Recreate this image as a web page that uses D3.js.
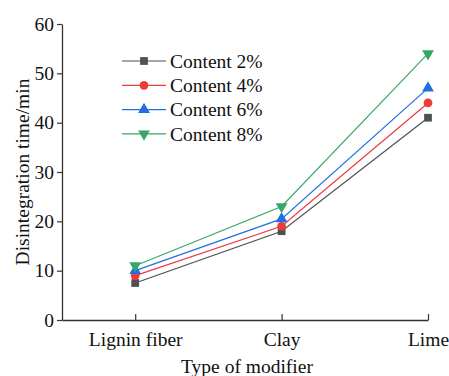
<!doctype html>
<meta charset="utf-8">
<style>
  body { margin: 0; background: #fff; }
  text { font-family: "Liberation Serif", "Times New Roman", serif; fill: #111; }
</style>
<body>
<script src="https://d3js.org/d3.v7.min.js"></script>
<script>
var categories = ['Lignin fiber', 'Clay', 'Lime'];
var seriesNames = ['Content 2%', 'Content 4%', 'Content 6%', 'Content 8%'];
var content2 = [7.5, 18, 41];
var content4 = [9, 19, 44];
var content6 = [10, 20.5, 47];
var content8 = [11, 23, 54];
var yTicks = [0, 10, 20, 30, 40, 50, 60];

var series = [
  {name: seriesNames[0], values: content2, color: '#505050', symbol: d3.symbolSquare, rot: 0},
  {name: seriesNames[1], values: content4, color: '#ef3a3a', symbol: d3.symbolCircle, rot: 0},
  {name: seriesNames[2], values: content6, color: '#1f6fe0', symbol: d3.symbolTriangle, rot: 0},
  {name: seriesNames[3], values: content8, color: '#36a865', symbol: d3.symbolTriangle, rot: 180}
];

var W = 449, H = 376,
    mLeft = 62, mRight = 428, mTop = 24, mBottom = 320,
    fs = 19.5;

var svg = d3.select('body').append('svg').attr('width', W).attr('height', H);

var x = d3.scaleLinear().domain([-0.5, 2]).range([mLeft, mRight]);
var y = d3.scaleLinear().domain([0, 60]).range([mBottom, mTop]);

// axes
var yAxis = svg.append('g').attr('transform', 'translate(' + mLeft + ',0)')
  .call(d3.axisLeft(y).tickValues(yTicks).tickSizeInner(5).tickSizeOuter(0).tickPadding(3));
var xAxis = svg.append('g').attr('transform', 'translate(0,' + mBottom + ')')
  .call(d3.axisBottom(x).tickValues([0, 1, 2]).tickSizeInner(-6).tickSizeOuter(0).tickPadding(12)
    .tickFormat(function(i){ return categories[i]; }));

[yAxis, xAxis].forEach(function(a){
  a.select('.domain').attr('stroke', '#333').attr('stroke-width', 1.3);
  a.selectAll('.tick line').attr('stroke', '#333').attr('stroke-width', 1.2);
  a.selectAll('text').attr('font-family', '"Liberation Serif", serif').attr('fill', '#111').attr('font-size', fs);
});

// axis titles
svg.append('text').text('Disintegration time/min')
  .attr('transform', 'translate(29,' + ((mTop + mBottom) / 2) + ') rotate(-90)')
  .attr('text-anchor', 'middle').attr('font-size', fs);
svg.append('text').text('Type of modifier')
  .attr('x', 247).attr('y', 373)
  .attr('text-anchor', 'middle').attr('font-size', fs);

// lines + markers
var line = d3.line().x(function(d, i){ return x(i); }).y(function(d){ return y(d); });
var sym = d3.symbol().size(60);

series.forEach(function(s){
  svg.append('path').attr('d', line(s.values))
    .attr('fill', 'none').attr('stroke', s.color).attr('stroke-width', 1.2);
  svg.selectAll(null).data(s.values).enter().append('path')
    .attr('d', sym.type(s.symbol)())
    .attr('transform', function(d, i){ return 'translate(' + x(i) + ',' + y(d) + ') rotate(' + s.rot + ')'; })
    .attr('fill', s.color);
});

// legend
var legend = svg.append('g').attr('transform', 'translate(122,61)');
series.forEach(function(s, i){
  var g = legend.append('g').attr('transform', 'translate(0,' + (i * 24.3) + ')');
  g.append('line').attr('x1', 0).attr('x2', 44).attr('stroke', s.color).attr('stroke-width', 1.2);
  g.append('path').attr('d', sym.type(s.symbol)())
    .attr('transform', 'translate(22,0) rotate(' + s.rot + ')').attr('fill', s.color);
  g.append('text').text(s.name).attr('x', 48).attr('dy', '0.35em').attr('font-size', fs);
});
</script>
</body>
